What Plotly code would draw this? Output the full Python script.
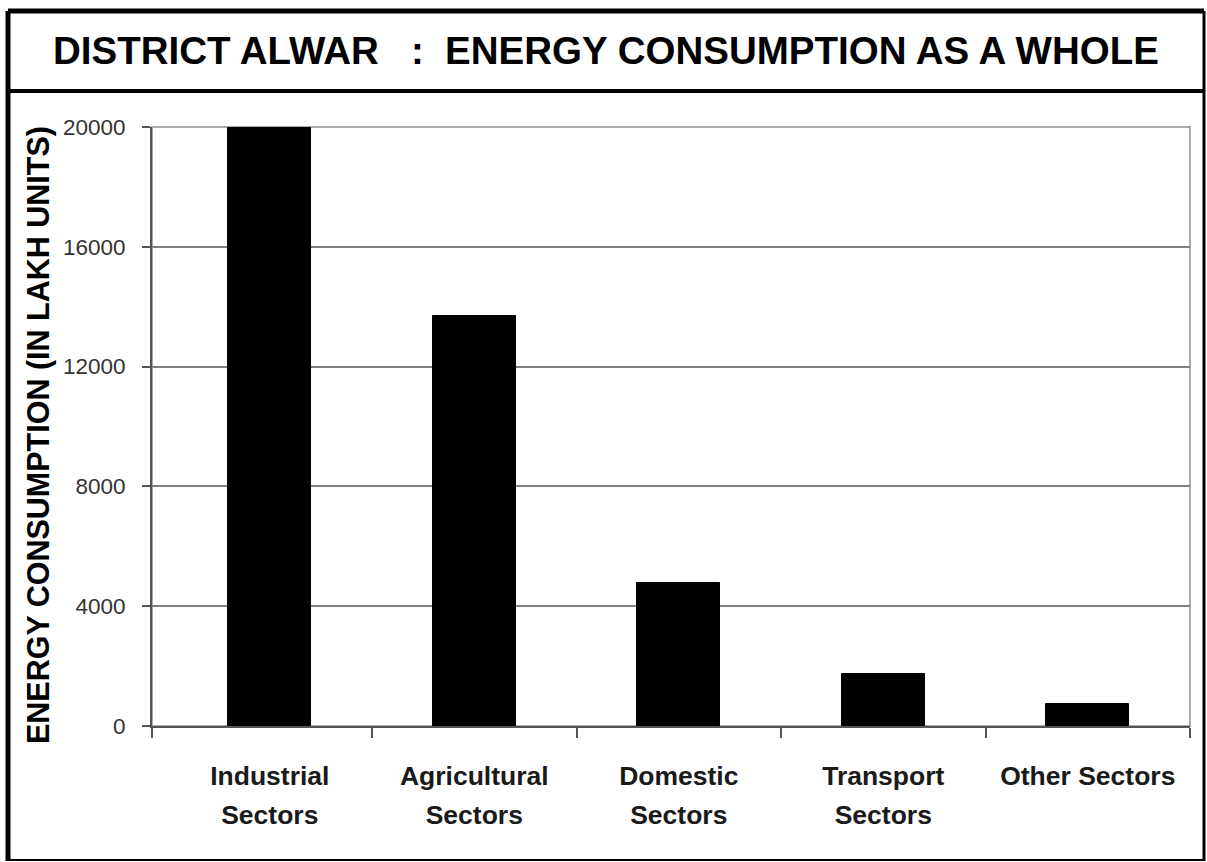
import plotly.graph_objects as go

categories_line1 = ["Industrial", "Agricultural", "Domestic", "Transport", "Other Sectors"]
categories_line2 = ["Sectors", "Sectors", "Sectors", "Sectors", ""]
values = [20000, 13680, 4780, 1740, 730]
y_ticks = [0, 4000, 8000, 12000, 16000, 20000]
y_tick_text = ["0", "4000", "8000", "12000", "16000", "20000"]
title_text = "DISTRICT ALWAR\u00a0\u00a0\u00a0:\u00a0 ENERGY CONSUMPTION AS A WHOLE"
y_title = "ENERGY CONSUMPTION (IN LAKH UNITS)"

W, H = 1207, 862
L, R, T, B = 152, 1190, 127, 726  # plot area in pixels

def px(x):
    return (x - L) / (R - L)

def py(y):
    return (B - y) / (B - T)

xpos = list(range(len(categories_line1)))
x_start = -0.576
x_range = [x_start, len(xpos) - 0.5]
boundaries = [x_start] + [i + 0.5 for i in xpos]

fig = go.Figure()
fig.add_trace(go.Bar(
    x=xpos, y=values, width=0.405,
    marker=dict(color="black", line=dict(color="black", width=1)),
    showlegend=False, hoverinfo="y",
))
# invisible companion trace so the second-line label axis is drawn
fig.add_trace(go.Scatter(
    x=xpos, y=values, xaxis="x2", yaxis="y", mode="markers",
    marker=dict(opacity=0, size=1), showlegend=False, hoverinfo="skip",
))

font_family = "Liberation Sans, Arial, sans-serif"
label_font = dict(family=font_family, size=26.5, color="#1a1a1a", weight="bold")

fig.update_layout(
    width=W, height=H,
    margin=dict(l=L, r=W - R, t=T, b=H - B, pad=0),
    paper_bgcolor="white", plot_bgcolor="white",
    font=dict(family=font_family, color="#222"),
    bargap=0,
    xaxis=dict(
        range=x_range,
        tickmode="array", tickvals=xpos, ticktext=categories_line1,
        ticks="", showgrid=False, zeroline=False,
        showline=True, linecolor="#555", linewidth=2,
        tickfont=label_font,
        ticklabelstandoff=25,
        minor=dict(tickmode="array", tickvals=boundaries, ticks="outside",
                   ticklen=10, tickwidth=2, tickcolor="#555", showgrid=False),
    ),
    xaxis2=dict(
        range=x_range, overlaying="x", anchor="y", side="bottom",
        tickmode="array", tickvals=xpos, ticktext=categories_line2,
        ticks="", showgrid=False, zeroline=False, showline=False,
        tickfont=label_font,
        ticklabelstandoff=70,
    ),
    yaxis=dict(
        range=[0, 20000], tickmode="array", tickvals=y_ticks, ticktext=y_tick_text,
        ticks="outside", ticklen=8, tickwidth=2, tickcolor="#555",
        showgrid=True, gridcolor="#808080", gridwidth=2,
        zeroline=False, showline=True, linecolor="#555", linewidth=2,
        tickfont=dict(family=font_family, size=22.5, color="#333"),
        ticklabelstandoff=12,
    ),
    shapes=[
        dict(type="rect", xref="paper", yref="paper", x0=0, x1=1, y0=0, y1=1,
             line=dict(color="#aaaaaa", width=2), layer="below"),
        dict(type="line", xref="paper", yref="paper", x0=px(8), x1=px(1204), y0=py(11), y1=py(11),
             line=dict(color="black", width=5)),
        dict(type="line", xref="paper", yref="paper", x0=px(8), x1=px(8), y0=py(11), y1=py(861),
             line=dict(color="black", width=5)),
        dict(type="line", xref="paper", yref="paper", x0=px(1204), x1=px(1204), y0=py(11), y1=py(861),
             line=dict(color="black", width=3)),
        dict(type="line", xref="paper", yref="paper", x0=px(8), x1=px(1204), y0=py(860), y1=py(860),
             line=dict(color="black", width=2)),
        dict(type="line", xref="paper", yref="paper", x0=px(8), x1=px(1204), y0=py(91), y1=py(91),
             line=dict(color="black", width=4)),
    ],
    annotations=[
        dict(text=title_text, xref="paper", yref="paper", x=px(606), y=py(50),
             xanchor="center", yanchor="middle", showarrow=False,
             font=dict(family=font_family, size=38.5, color="black", weight="bold")),
        dict(text=y_title, xref="paper", yref="paper", x=px(39), y=py(435),
             xanchor="center", yanchor="middle", showarrow=False, textangle=-90,
             font=dict(family=font_family, size=30.5, color="black", weight="bold")),
    ],
)

fig.write_html("out.html")
